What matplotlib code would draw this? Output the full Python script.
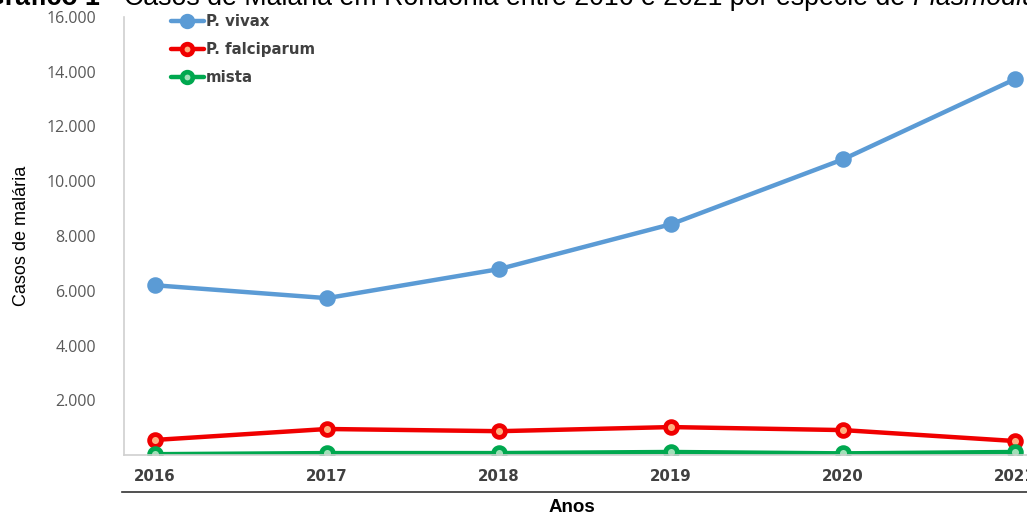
"""
Casos de malária em Rondônia por espécie de Plasmodium (2016-2021)
"""
import matplotlib
matplotlib.use("Agg")
import matplotlib.pyplot as plt
from matplotlib.ticker import FuncFormatter

anos = [2016, 2017, 2018, 2019, 2020, 2021]
vivax = [6200, 5730, 6790, 8430, 10800, 13730]
falciparum = [550, 950, 870, 1020, 910, 510]
mista = [30, 70, 70, 110, 60, 110]

series = [
    ("P. vivax", vivax, "#5B9BD5", "#5B9BD5"),
    ("P. falciparum", falciparum, "#F00000", "#FFB080"),
    ("mista", mista, "#00A84F", "#A0E0B8"),
]

plt.rcParams["font.family"] = ["Liberation Sans", "DejaVu Sans"]

W, H = 1027, 513
fig = plt.figure(figsize=(W / 100, H / 100), dpi=100)
ax = fig.add_axes([124 / W, 1 - 455 / H, (W - 124) / W, (455 - 17) / H])

for nome, valores, cor, centro in series:
    ax.plot(anos, valores, color=cor, lw=3.2, marker="o", ms=8.5,
            markerfacecolor=centro, markeredgecolor=cor, markeredgewidth=3.4,
            label=nome, solid_capstyle="round")

ax.set_xlim(2016 - 31 / 172, 2021 + 12 / 172)
ax.set_ylim(0, 16000)
ax.set_yticks(range(2000, 16001, 2000))
ax.yaxis.set_major_formatter(FuncFormatter(lambda v, p: f"{int(v):,}".replace(",", ".")))
ax.set_xticks(anos)

for s in ["top", "right"]:
    ax.spines[s].set_visible(False)
for s in ["left", "bottom"]:
    ax.spines[s].set_color("#D0D0D0")
    ax.spines[s].set_linewidth(1.2)

ax.tick_params(axis="y", length=0, pad=20, labelsize=11.5, labelcolor="#595959")
ax.tick_params(axis="x", length=0, pad=10, labelsize=10.8, labelcolor="#404040")
for lbl in ax.get_xticklabels():
    lbl.set_fontweight("bold")
    lbl.set_fontfamily(["DejaVu Sans"])
for lbl in ax.get_yticklabels():
    lbl.set_fontfamily(["Open Sans", "DejaVu Sans"])

fig.text(22 / W, 1 - 236 / H, "Casos de malária", rotation=90, ha="center", va="center",
         fontsize=13, family=["Liberation Sans Narrow", "Liberation Sans"])

# linha preta sob os rótulos dos anos e título do eixo
fig.add_artist(plt.Line2D([122 / W, 1], [1 - 492 / H, 1 - 492 / H], color="#333333", lw=1.2))
fig.text(572 / W, 1 - 507 / H, "Anos", ha="center", va="center", fontsize=13.5, fontweight="bold")

# título cortado no topo da imagem
base = 1 - 5 / H
t1 = fig.text(-16 / W, base, "Gráfico 1 - ", fontsize=19.3, fontweight="bold", va="baseline")
fig.canvas.draw()
bb = t1.get_window_extent()
t2 = fig.text(bb.x1 / W, base, "Casos de Malária em Rondônia entre 2016 e 2021 por espécie de ",
              fontsize=19.3, va="baseline")
fig.canvas.draw()
bb2 = t2.get_window_extent()
fig.text(bb2.x1 / W, base, "Plasmodium", fontsize=19.3, style="italic", va="baseline")

leg = ax.legend(loc="upper left", bbox_to_anchor=(158 / W, 1 - 1 / H),
                bbox_transform=fig.transFigure, frameon=False, handlelength=2.4,
                handletextpad=0.15, labelspacing=0.95, markerscale=0.9)
for txt in leg.get_texts():
    txt.set_fontweight("bold")
    txt.set_fontsize(10.8)
    txt.set_fontfamily(["DejaVu Sans"])
    txt.set_color("#404040")

fig.savefig("out.png", dpi=100)
